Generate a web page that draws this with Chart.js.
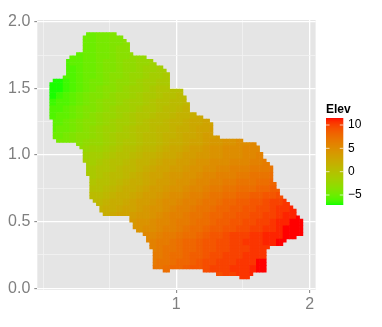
<!DOCTYPE html>
<html><head><meta charset="utf-8">
<style>html,body{margin:0;padding:0;background:#fff}canvas{display:block}</style>
<script src="https://cdn.jsdelivr.net/npm/chart.js@4"></script>
</head><body><canvas id="c" width="382" height="327"></canvas>
<script>
const xTickValues=[0,0.5,1,1.5,2];
const xTickLabels={1:"1",2:"2"};
const yTickValues=[0,0.25,0.5,0.75,1,1.25,1.5,1.75,2];
const yTickLabels={0:"0.0",0.5:"0.5",1:"1.0",1.5:"1.5",2:"2.0"};
const legendTicks=[10,5,0,-5];
const legendLabels=["10","5","0","\u22125"];
const legendTitle="Elev";
const elevMin=-7.14, elevMax=11.5;
// cell grid: column / row index to data coordinates
const cellSize=0.025, firstColX=0.0625, firstRowY=1.9075;
// filled column ranges [from, to) of every row
const rowSpans=[[11,20],[10,22],[10,23],[10,24],[10,24],[10,24],[8,25],[6,29],[5,31],[5,32],[5,34],[5,35],[5,36],[4,36],[1,36],[0,36],[0,36],[0,40],[0,40],[0,41],[0,41],[0,42],[0,42],[0,42],[0,44],[0,46],[1,48],[1,49],[1,49],[1,49],[1,49],[1,51],[2,58],[8,62],[9,63],[10,63],[10,64],[10,64],[10,65],[11,66],[11,67],[11,67],[11,67],[12,67],[12,67],[12,68],[12,68],[12,69],[12,69],[12,70],[13,71],[14,72],[15,73],[15,74],[16,74],[24,75],[24,76],[25,76],[25,76],[26,76],[28,76],[29,74],[29,71],[30,70],[30,66],[31,65],[31,65],[31,65],[31,65],[31,65],[31,65],[34,36,46,65],[50,61],[57,60]];
// elevation read per 2x2 block of cells; first block column of each block row
const elevStart=[5,5,5,3,2,2,2,0,0,0,0,0,0,0,0,0,1,4,5,5,5,5,6,6,6,6,7,8,12,12,14,14,15,15,15,15,25];
const elevRows=[
[-5,-5,-4.5,-4.5,-4,-4],
[-5,-5,-4.5,-4.5,-4,-4,-3.5],
[-5,-5,-4.5,-4.5,-4,-3.5,-3.5],
[-5.5,-5.5,-5,-5,-4.5,-4.5,-4,-3.5,-3.5,-3,-3,-2.5],
[-6,-5.5,-5.5,-5,-5,-4.5,-4,-4,-3.5,-3,-3,-2.5,-2.5,-2],
[-6,-6,-5.5,-5,-5,-4.5,-4,-4,-3.5,-3,-3,-2.5,-2,-2,-1.5,-1.5],
[-6,-6,-5.5,-5,-5,-4.5,-4,-3.5,-3.5,-3,-2.5,-2.5,-2,-1.5,-1.5,-1],
[-7,-7,-6.5,-6,-5.5,-5,-4.5,-4.5,-4,-3.5,-3,-3,-2.5,-2,-1.5,-1.5,-1,-1],
[-7,-7,-6.5,-6,-5.5,-5,-4.5,-4,-3.5,-3.5,-3,-2.5,-2,-2,-1.5,-1,-.5,-.5,0,0],
[-7,-6.5,-6,-5.5,-5,-4.5,-4,-4,-3.5,-3,-2.5,-2.5,-2,-1.5,-1,-1,-.5,0,0,.5,.5],
[-6.5,-6,-6,-5.5,-5,-4.5,-4,-3.5,-3,-3,-2.5,-2,-1.5,-1.5,-1,-.5,0,0,.5,.5,1],
[-6,-6,-5.5,-5,-4.5,-4,-4,-3.5,-3,-2.5,-2,-2,-1.5,-1,-.5,-.5,0,.5,.5,1,1.5],
[-6,-5.5,-5.5,-5,-4.5,-4,-3.5,-3,-2.5,-2.5,-2,-1.5,-1,-.5,-.5,0,.5,.5,1,1.5,1.5,2,2.5],
[-5.5,-5.5,-5,-4.5,-4,-3.5,-3.5,-3,-2.5,-2,-1.5,-1.5,-1,-.5,0,.5,.5,1,1.5,1.5,2,2.5,2.5,3,3],
[-5.5,-5,-5,-4.5,-4,-3.5,-3,-2.5,-2,-2,-1.5,-1,-.5,0,0,.5,1,1,1.5,2,2,2.5,3,3,3.5],
[-5,-5,-4.5,-4,-3.5,-3.5,-3,-2.5,-2,-1.5,-1,-1,-.5,0,.5,.5,1,1.5,1.5,2,2.5,2.5,3,3.5,3.5,4],
[-4.5,-4.5,-4,-3.5,-3,-2.5,-2.5,-2,-1.5,-1,-.5,-.5,0,.5,.5,1,1.5,2,2,2.5,3,3,3.5,4,4,4.5,4.5,5,5,5.5],
[-3,-2.5,-2,-2,-1.5,-1,-.5,0,0,.5,1,1,1.5,2,2.5,2.5,3,3.5,3.5,4,4.5,4.5,5,5,5,5.5,5.5,5.5],
[-2,-1.5,-1.5,-1,-.5,0,0,.5,1,1.5,1.5,2,2.5,2.5,3,3.5,3.5,4,4,4.5,4.5,5,5,5,5.5,5.5,6],
[-1.5,-1.5,-1,-.5,0,0,.5,1,1.5,1.5,2,2.5,3,3,3.5,3.5,4,4.5,4.5,5,5,5,5.5,5.5,5.5,6,6,6.5],
[-1.5,-1,-.5,-.5,0,.5,1,1,1.5,2,2.5,3,3,3.5,3.5,4,4.5,4.5,5,5,5.5,5.5,6,6,6,6.5,6.5,6.5,7],
[-1,-1,-.5,0,.5,.5,1,1.5,2,2.5,3,3,3.5,4,4,4.5,4.5,5,5.5,5.5,6,6,6,6.5,6.5,7,7,7,7.5],
[-.5,0,0,.5,1,1.5,2,2,2.5,3,3.5,3.5,4,4.5,4.5,5,5.5,5.5,6,6,6.5,6.5,7,7,7,7.5,7.5,8],
[0,0,.5,1,1.5,2,2,2.5,3,3.5,3.5,4,4.5,4.5,5,5.5,5.5,6,6.5,6.5,7,7,7.5,7.5,7.5,8,8,8.5,8.5],
[.5,.5,1,1.5,2,2,2.5,3,3.5,3.5,4,4.5,5,5,5.5,6,6,6.5,7,7,7.5,7.5,8,8,8.5,8.5,9,9,9.5],
[.5,1,1.5,2,2,2.5,3,3.5,3.5,4,4.5,5,5,5.5,6,6,6.5,7,7,7.5,8,8,8.5,8.5,9,9,9.5,10,10,10.5],
[1.5,2,2,2.5,3,3,3.5,4,4.5,4.5,5,5.5,6,6,6.5,7,7,7.5,8,8,8.5,8.5,9,9,9.5,9.5,10,10.5,10.5,11],
[2,2.5,3,3,3.5,4,4,4.5,5,5.5,6,6,6.5,7,7,7.5,8,8,8.5,8.5,9,9,9.5,9.5,10,10,10.5,11,11,11.5],
[4,4.5,4.5,5,5.5,5.5,6,6.5,6.5,7,7.5,7.5,8,8.5,8.5,9,9,9.5,9.5,10,10,10.5,11,11,11.5,11.5],
[4.5,4.5,5,5,5.5,6,6,6.5,7,7.5,7.5,8,8.5,8.5,9,9,9.5,9.5,10,10,10.5,10.5,11,11.5,11.5,11.5],
[5.5,5.5,6,6.5,6.5,7,7.5,7.5,8,8.5,9,9,9.5,10,10,10,10.5,10.5,11,11,11,11.5,11.5,11.5],
[5.5,6,6.5,6.5,7,7.5,8,8,8.5,9,9,9.5,9.5,10,10,10.5,10.5,10.5,11,11,11.5,11.5],
[6,6.5,7,7,7.5,8,8,8.5,9,9,9.5,9.5,10,10,10,10.5,10.5,10.5],
[6.5,6.5,7,7.5,7.5,8,8.5,8.5,9,9.5,9.5,10,10,10,10.5,10.5,10.5,10.5],
[6.5,7,7,7.5,8,8,8.5,9,9.5,9.5,10,10,10,10.5,10.5,10.5,11.5,11.5],
[7,7,7.5,8,8,8.5,9,9,9.5,10,10,10,10.5,10.5,10.5,11,11.5,11.5],
[9.5,10,10,10.5,10.5,11]
];

// green -> red colour scale through Lab space
function elevColor(v){
  const t=Math.max(0,Math.min(1,(v-elevMin)/(elevMax-elevMin)));
  const L=87.735+(53.233-87.735)*t, A=-86.183+(80.109+86.183)*t, B=83.179+(67.22-83.179)*t;
  const fy=(L+16)/116, fx=fy+A/500, fz=fy-B/200;
  const g=f=>f>6/29?f*f*f:3*(6/29)*(6/29)*(f-4/29);
  const X=0.95047*g(fx), Y=g(fy), Z=1.08883*g(fz);
  const gam=c=>{c=Math.max(0,Math.min(1,c));return Math.round(255*(c<=0.0031308?12.92*c:1.055*Math.pow(c,1/2.4)-0.055));};
  return "rgb("+gam(3.2406*X-1.5372*Y-0.4986*Z)+","+gam(-0.9689*X+1.8758*Y+0.0415*Z)+","+gam(0.0557*X-0.204*Y+1.057*Z)+")";
}

const cells=[];
rowSpans.forEach((span,r)=>{
  const g=r>>1, row=elevRows[g], s=elevStart[g];
  for(let k=0;k<span.length;k+=2){
    for(let c=span[k];c<span[k+1];c++){
      const i=Math.max(0,Math.min(row.length-1,(c>>1)-s));
      cells.push({x:firstColX+cellSize*c,y:firstRowY-cellSize*r,v:row[i]});
    }
  }
});

const panelPlugin={id:"panel",beforeDraw(chart){
  const a=chart.chartArea, ctx=chart.ctx;
  ctx.save();ctx.fillStyle="#e5e5e5";ctx.fillRect(a.left,a.top,a.right-a.left,a.bottom-a.top);ctx.restore();
}};
const legendPlugin={id:"elevLegend",afterDraw(chart){
  const ctx=chart.ctx, l=326, w=17.3, top=118, bottom=205;
  ctx.save();
  for(let y=top;y<bottom;y++){
    ctx.fillStyle=elevColor(elevMax-(y+0.5-top)/(bottom-top)*(elevMax-elevMin));
    ctx.fillRect(l,y,w,1);
  }
  ctx.strokeStyle="#fff";ctx.lineWidth=0.7;ctx.fillStyle="#000";
  ctx.textBaseline="middle";ctx.textAlign="left";
  ctx.font="12px 'Liberation Sans'";
  legendTicks.forEach((t,i)=>{
    const y=bottom-(t-elevMin)/(elevMax-elevMin)*(bottom-top);
    ctx.beginPath();ctx.moveTo(l,y);ctx.lineTo(l+3.5,y);ctx.moveTo(l+w-3.5,y);ctx.lineTo(l+w,y);ctx.stroke();
    ctx.fillText(legendLabels[i],348,y);
  });
  ctx.font="bold 12px 'Liberation Sans'";
  ctx.textBaseline="alphabetic";
  ctx.fillText(legendTitle,326,113);
  ctx.restore();
}};

const majorY=v=>yTickLabels[v]!==undefined, majorX=v=>xTickLabels[v]!==undefined;
new Chart(document.getElementById("c"),{
  type:"scatter",
  data:{datasets:[{data:cells,showLine:false,pointStyle:"rect",pointRadius:2.75,pointBorderWidth:0,borderWidth:0,
    pointBackgroundColor:cells.map(p=>elevColor(p.v))}]},
  plugins:[panelPlugin,legendPlugin],
  options:{
    responsive:false,animation:false,events:[],
    layout:{padding:{left:0,top:20,right:66.4,bottom:0}},
    plugins:{legend:{display:false},tooltip:{enabled:false}},
    scales:{
      x:{type:"linear",min:-0.043,max:2.045,
        afterBuildTicks:s=>{s.ticks=xTickValues.map(v=>({value:v}));},
        afterFit:s=>{s.height=37;},
        border:{display:false},
        grid:{color:c=>majorX(c.tick.value)?"#ffffff":"#f2f2f2",lineWidth:c=>majorX(c.tick.value)?1.3:0.8,
          tickColor:c=>majorX(c.tick.value)?"#7f7f7f":"rgba(0,0,0,0)",tickLength:3,tickWidth:1},
        ticks:{autoSkip:false,maxRotation:0,padding:2,color:"#7f7f7f",font:{family:"'Liberation Sans'",size:16},
          callback:v=>xTickLabels[v]||""}},
      y:{type:"linear",min:-0.013,max:2.014,
        afterBuildTicks:s=>{s.ticks=yTickValues.map(v=>({value:v}));},
        afterFit:s=>{s.width=37.3;},
        border:{display:false},
        grid:{color:c=>majorY(c.tick.value)?"#ffffff":"#f2f2f2",lineWidth:c=>majorY(c.tick.value)?1.3:0.8,
          tickColor:c=>majorY(c.tick.value)?"#7f7f7f":"rgba(0,0,0,0)",tickLength:3,tickWidth:1},
        ticks:{autoSkip:false,padding:4,color:"#7f7f7f",font:{family:"'Liberation Sans'",size:16},
          callback:v=>yTickLabels[v]||""}}
    }
  }
});
</script></body></html>
